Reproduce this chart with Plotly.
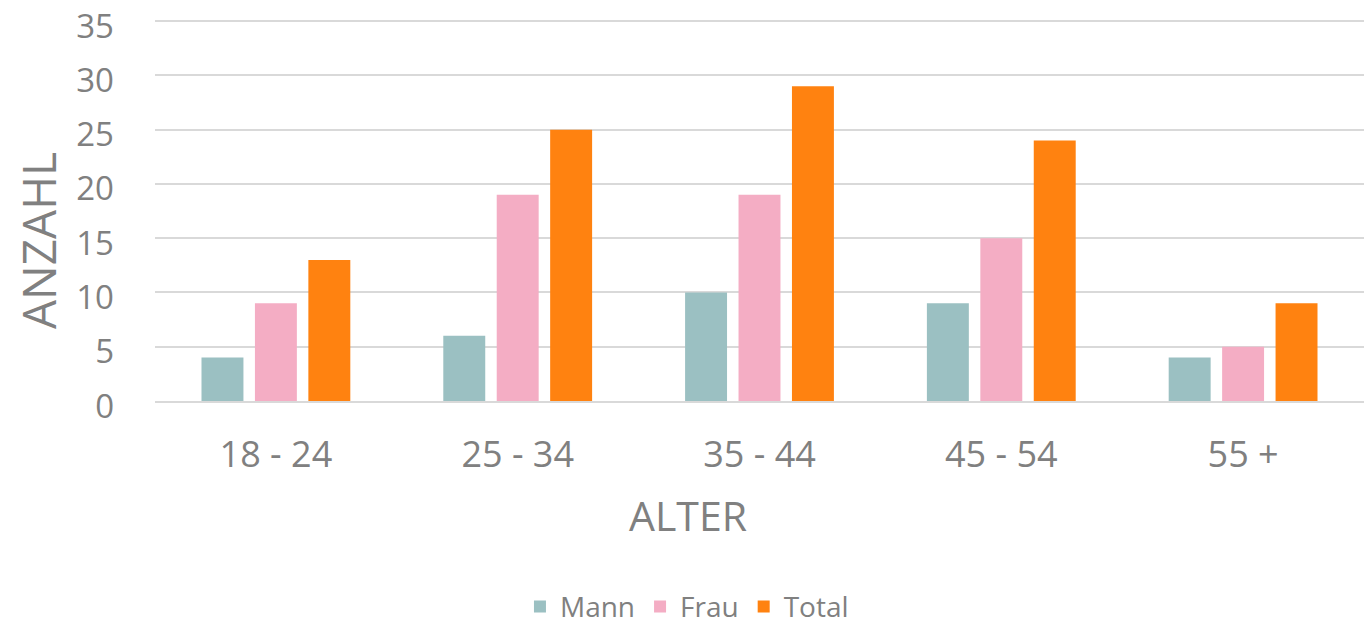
import plotly.graph_objects as go

categories = ["18 - 24", "25 - 34", "35 - 44", "45 - 54", "55 +"]
mann = [4, 6, 10, 9, 4]
frau = [9, 19, 19, 15, 5]
total = [13, 25, 29, 24, 9]
y_ticks = [0, 5, 10, 15, 20, 25, 30, 35]

GRAY = "#808080"
FONT = "Open Sans"

fig = go.Figure()
fig.add_trace(go.Bar(name="Mann", x=categories, y=mann, marker=dict(color="#9BC0C2", line=dict(width=0))))
fig.add_trace(go.Bar(name="Frau", x=categories, y=frau, marker=dict(color="#F4ADC4", line=dict(width=0))))
fig.add_trace(go.Bar(name="Total", x=categories, y=total, marker=dict(color="#FF8210", line=dict(width=0))))

fig.update_layout(
    width=1364, height=627,
    margin=dict(l=155, r=0, t=20, b=226, autoexpand=False),
    paper_bgcolor="white", plot_bgcolor="white",
    barmode="group", bargap=0.337, bargroupgap=0.215,
    font=dict(family=FONT, color=GRAY),
    showlegend=True,
    legend=dict(orientation="h", x=0.44, xanchor="center", y=-0.54, yanchor="middle",
                font=dict(size=28, color=GRAY, family=FONT), itemwidth=30,
                traceorder="normal"),
    xaxis=dict(showgrid=False, showline=True, linecolor="#D9D9D9", linewidth=2,
               tickfont=dict(size=36, color=GRAY, family=FONT), ticks="",
               ticklabelstandoff=21),
    yaxis=dict(range=[0, 35.1], tickvals=y_ticks, showgrid=True, gridcolor="#D9D9D9", gridwidth=2,
               zeroline=False, showline=False, ticks="", ticklabeloverflow="allow",
               ticklabelshift=5,
               tickfont=dict(size=33, color=GRAY, family=FONT), ticklabelstandoff=40),
    annotations=[
        dict(text="ALTER", xref="paper", yref="paper", x=0.441, y=(401 - 515) / 381,
             showarrow=False, xanchor="center", yanchor="middle",
             font=dict(size=41, color=GRAY, family=FONT)),
        dict(text="ANZAHL", xref="paper", yref="paper", x=(38 - 155) / 1209, y=(401 - 241) / 381,
             showarrow=False, xanchor="center", yanchor="middle", textangle=-90,
             font=dict(size=46, color=GRAY, family=FONT)),
    ],
)

fig.write_html("out.html", config={"displayModeBar": False},
               post_script="document.body.style.margin='0';document.body.style.overflow='hidden';")
